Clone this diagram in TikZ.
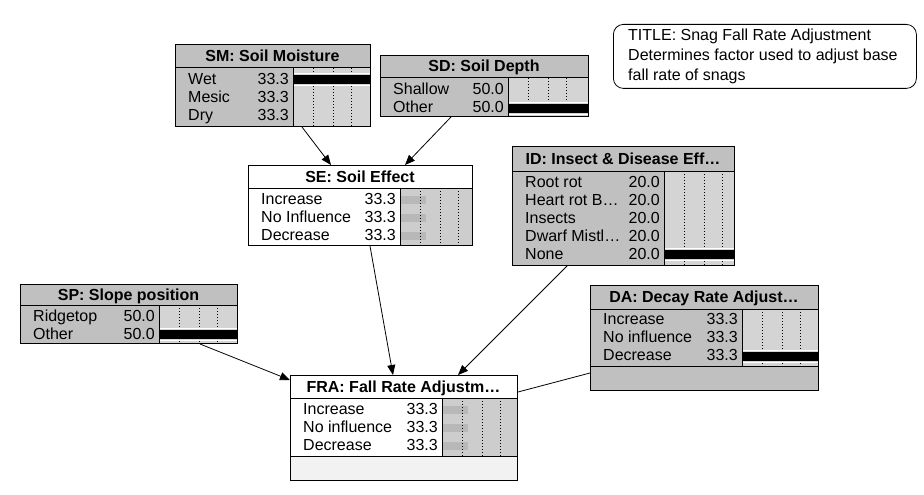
\documentclass[tikz,border=0pt]{standalone}
\usepackage{fontspec}
\setmainfont{Liberation Sans}
\usetikzlibrary{arrows.meta}
\definecolor{headA}{HTML}{C0C0C0}
\definecolor{stateA}{HTML}{C0C0C0}
\definecolor{barA}{HTML}{D4D4D4}
\definecolor{footA}{HTML}{C0C0C0}
\definecolor{headB}{HTML}{FFFFFF}
\definecolor{stateB}{HTML}{FFFFFF}
\definecolor{barB}{HTML}{CDCDCD}
\definecolor{footB}{HTML}{F2F2F2}
\definecolor{smallbar}{HTML}{B8B8B8}
\newcommand\stfont{\fontsize{16}{18}\selectfont}
\tikzset{
  frame/.style={draw=black, line width=1pt, inner sep=0pt, anchor=north west},
  sep/.style={draw=black, line width=1pt},
  tickline/.style={draw=black, line width=0.8pt, dash pattern=on 1pt off 2pt},
  lbl/.style={inner sep=0pt, font=\stfont},
  ttl/.style={inner sep=0pt, font=\stfont\bfseries, anchor=base},
  link/.style={draw=black, line width=0.8pt, -{Triangle[length=10pt,width=8pt]}},
  plainlink/.style={draw=black, line width=0.8pt}
}
% background: x1,y1,x2,y2,ytitle,ystates,xbar,variant
\newcommand\netbg[8]{%
  \fill[state#8] (#1,#2) rectangle (#3,#4);
  \fill[head#8] (#1,#2) rectangle (#3,#5);
  \fill[bar#8] (#7,#5) rectangle (#3,#6);
  \fill[foot#8] (#1,#6) rectangle (#3,#4);
}
% ticks: xbar, ytitle, ystates
\newcommand\netticks[3]{%
  \foreach \t in {20,40,58} \draw[tickline] (#1+\t,#2) -- (#1+\t,#3);
}
% frame: name,x1,y1,x2,y2,ytitle,ystates,xbar,title
\newcommand\netframe[9]{%
  \draw[sep] (#2,#6) -- (#4,#6);
  \draw[sep] (#2,#7) -- (#4,#7);
  \draw[sep] (#8,#6) -- (#8,#7);
  \node[frame, minimum width=#4pt-#2pt, minimum height=#5pt-#3pt] (#1) at (#2,#3) {};
  \node[ttl] (#1-title) at ({(#2+#4)/2},{(#3+#6)/2+5.5}) {#9};
}
% state row: name,x1,xbar,y,label,value
\newcommand\srow[6]{%
  \node[lbl, anchor=base west] (#1-l) at (#2+13,#4+5.5) {#5};
  \node[lbl, anchor=base east] (#1-v) at (#3-4,#4+5.5) {#6};
}
% black finding bar: xbar,x2,y,variant
\newcommand\bbar[4]{%
  \fill[white] (#1,#3-6.5) rectangle (#2,#3+6.5);
  \fill[bar#4] (#1,#3-5.5) rectangle (#2,#3+5.5);
  \fill[black] (#1,#3-4.5) rectangle (#2,#3+4.5);
}
% small gray bar: xbar,y
\newcommand\sbar[2]{%
  \fill[smallbar] (#1,#2-4) rectangle (#1+26,#2+4);
}
\begin{document}
\begin{tikzpicture}[x=1pt,y=-1pt]
\fill[white] (0,0) rectangle (924,495);
\useasboundingbox (0,0) rectangle (924,495);

% ---- SM
\netbg{175}{44}{370}{126}{68}{126}{293}{A}
\netticks{293}{68}{126}
\bbar{293}{370}{79.5}{A}
\netframe{SM}{175}{44}{370}{126}{68}{126}{293}{SM: Soil Moisture}
\srow{SM1}{175}{293}{79}{Wet}{33.3}
\srow{SM2}{175}{293}{97}{Mesic}{33.3}
\srow{SM3}{175}{293}{115}{Dry}{33.3}

% ---- SD
\netbg{380}{55}{588}{116}{78}{116}{508}{A}
\netticks{508}{78}{116}
\bbar{508}{588}{108.5}{A}
\netframe{SD}{380}{55}{588}{116}{78}{116}{508}{SD: Soil Depth}
\srow{SD1}{380}{508}{89.5}{Shallow}{50.0}
\srow{SD2}{380}{508}{107.5}{Other}{50.0}

% ---- SE
\netbg{248}{165}{472}{245}{188}{245}{400}{B}
\sbar{400}{200}
\sbar{400}{218}
\sbar{400}{236}
\netticks{400}{188}{245}
\netframe{SE}{248}{165}{472}{245}{188}{245}{400}{SE: Soil Effect}
\srow{SE1}{248}{400}{199}{Increase}{33.3}
\srow{SE2}{248}{400}{217}{No Influence}{33.3}
\srow{SE3}{248}{400}{235}{Decrease}{33.3}

% ---- ID
\netbg{512}{146}{734}{265}{171}{265}{664}{A}
\netticks{664}{171}{265}
\bbar{664}{734}{254.5}{A}
\netframe{ID}{512}{146}{734}{265}{171}{265}{664}{ID: Insect \& Disease Eff…}
\srow{ID1}{512}{664}{182}{Root rot}{20.0}
\srow{ID2}{512}{664}{200}{Heart rot B…}{20.0}
\srow{ID3}{512}{664}{218}{Insects}{20.0}
\srow{ID4}{512}{664}{236}{Dwarf Mistl…}{20.0}
\srow{ID5}{512}{664}{254}{None}{20.0}

% ---- SP
\netbg{20}{284}{237}{343}{305}{343}{159}{A}
\netticks{159}{305}{343}
\bbar{159}{237}{334.5}{A}
\netframe{SP}{20}{284}{237}{343}{305}{343}{159}{SP: Slope position}
\srow{SP1}{20}{159}{316}{Ridgetop}{50.0}
\srow{SP2}{20}{159}{334}{Other}{50.0}

% ---- DA
\netbg{590}{285}{818}{390}{309}{366}{742}{A}
\netticks{742}{309}{366}
\bbar{742}{818}{356}{A}
\netframe{DA}{590}{285}{818}{390}{309}{366}{742}{DA: Decay Rate Adjust…}
\srow{DA1}{590}{742}{319}{Increase}{33.3}
\srow{DA2}{590}{742}{337}{No influence}{33.3}
\srow{DA3}{590}{742}{355}{Decrease}{33.3}

% ---- FRA
\netbg{290}{375}{517}{480}{398}{456}{442}{B}
\sbar{442}{410}
\sbar{442}{428}
\sbar{442}{446}
\netticks{442}{398}{456}
\netframe{FRA}{290}{375}{517}{480}{398}{456}{442}{FRA: Fall Rate Adjustm…}
\srow{FRA1}{290}{442}{409}{Increase}{33.3}
\srow{FRA2}{290}{442}{427}{No influence}{33.3}
\srow{FRA3}{290}{442}{445}{Decrease}{33.3}

% ---- title box
\node[draw=black, line width=0.8pt, rounded corners=10pt, fill=white, inner sep=0pt,
      anchor=north west, minimum width=303pt, minimum height=64pt] (TB) at (613,24) {};
\node[lbl, anchor=base west] (TB1) at (628,40.5) {TITLE: Snag Fall Rate Adjustment};
\node[lbl, anchor=base west] (TB2) at (628,60.5) {Determines factor used to adjust base};
\node[lbl, anchor=base west] (TB3) at (628,80.5) {fall rate of snags};

% ---- links
\draw[link] ([xshift=127pt]SM.south west) -- ([xshift=83pt]SE.north west);
\draw[link] ([xshift=71pt]SD.south west) -- ([xshift=157pt]SE.north west);
\draw[link] ([xshift=122pt]SE.south west) -- ([xshift=103pt]FRA.north west);
\draw[link] ([xshift=55pt]ID.south west) -- ([xshift=168pt]FRA.north west);
\draw[link] ([xshift=180pt]SP.south west) -- ([yshift=-5pt]FRA.north west);
\draw[plainlink] ([yshift=-88pt]DA.north west) -- ([yshift=-17pt]FRA.north east);
\end{tikzpicture}
\end{document}
